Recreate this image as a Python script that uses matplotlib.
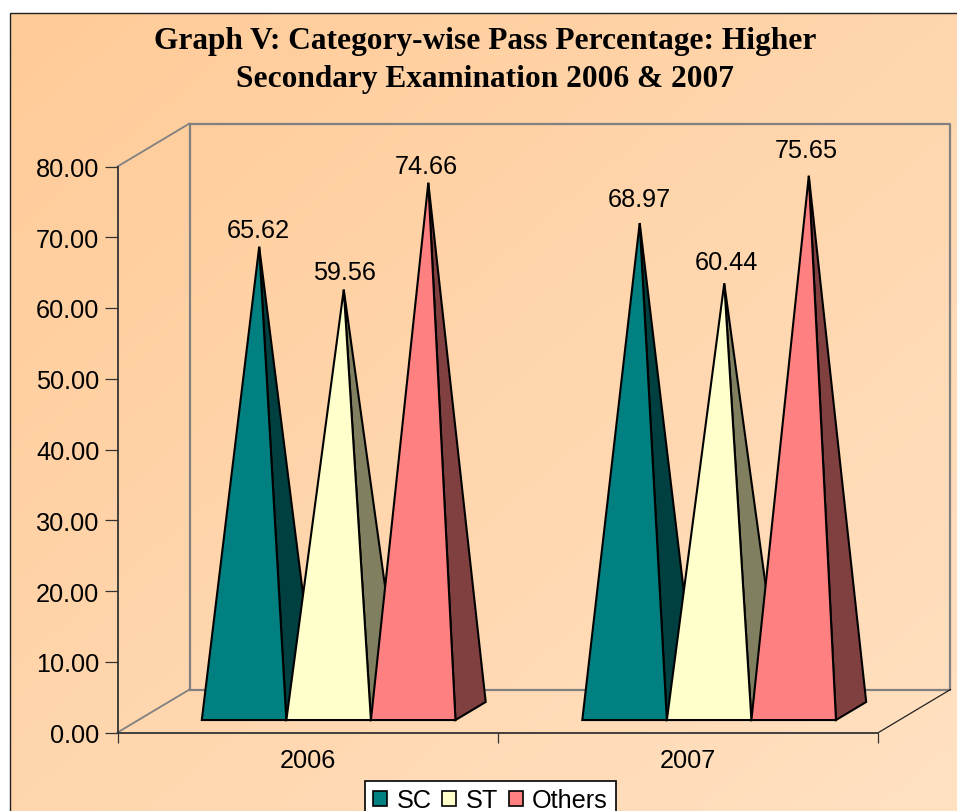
"""Category-wise pass percentage, 3D-look pyramid chart."""

import matplotlib
matplotlib.use("Agg")
import matplotlib.pyplot as plt
import numpy as np
from matplotlib.patches import Patch, Polygon, Rectangle

years = ["2006", "2007"]
categories = ["SC", "ST", "Others"]
sc_values = [65.62, 68.97]
st_values = [59.56, 60.44]
others_values = [74.66, 75.65]
y_ticks = [0, 10, 20, 30, 40, 50, 60, 70, 80]

front_colors = ["#008080", "#FFFFCC", "#FF8080"]
side_colors = ["#004040", "#808060", "#804040"]

W, H = 957, 812
LEFT, RIGHT, BASE, TOP = 117.5, 878.5, 733.5, 167.5  # front plane in pixels
DEPTH_X = 72 / ((RIGHT - LEFT) / 2)  # wall depth in x units
DEPTH_Y = 43 / ((BASE - TOP) / 80)  # wall depth in y units
BAR_W = 1 / 4.5
FRONT, MID, BACK = 0.29, 0.50, 0.71
TEXT_SIZE = 18.2

plt.rcParams["font.family"] = ["Liberation Sans", "DejaVu Sans"]
fig = plt.figure(figsize=(W / 100, H / 100), dpi=100, facecolor="white")

# page background with diagonal gradient
bg = fig.add_axes([0, 0, 1, 1], zorder=0)
bg.axis("off")
gx, gy = np.meshgrid(np.linspace(0, 1, 200), np.linspace(0, 1, 200))
t = (gx + gy)[..., None] / 2
grad = (1 - t) * np.array([255, 203, 152]) + t * np.array([255, 225, 194])
bg.imshow(grad / 255, extent=(10, W + 2, H + 2, 14), aspect="auto", interpolation="bilinear")
bg.set_xlim(0, W)
bg.set_ylim(H, 0)
bg.add_patch(Rectangle((10, 14), W, H, fill=False, ec="#222222", lw=1.0))

fig.text(485 / W, 1 - 60.5 / H,
         "Graph V: Category-wise Pass Percentage: Higher\nSecondary Examination 2006 & 2007",
         family="Liberation Serif", weight="bold", fontsize=22.6, ha="center", va="center",
         linespacing=1.38, color="black")

ax = fig.add_axes([LEFT / W, 1 - BASE / H, (RIGHT - LEFT) / W, (BASE - TOP) / H], zorder=1)
ax.patch.set_alpha(0)
ax.set_xlim(0, 2)
ax.set_ylim(0, 80)
for s in ["top", "right"]:
    ax.spines[s].set_visible(False)
for s in ["left", "bottom"]:
    ax.spines[s].set_color("#333333")
    ax.spines[s].set_linewidth(1.3)

ax.set_yticks(y_ticks)
ax.set_yticklabels([f"{v:.2f}" for v in y_ticks], fontsize=TEXT_SIZE)
ax.tick_params(axis="y", length=9.4, width=0.9, pad=3.7, color="#333333")
ax.set_xticks([0, 1, 2])
ax.set_xticklabels([])
ax.tick_params(axis="x", which="major", length=7.2, width=0.9, color="#333333")
ax.set_xticks([0.5, 1.5], minor=True)
ax.set_xticklabels(years, minor=True, fontsize=TEXT_SIZE)
ax.tick_params(axis="x", which="minor", length=0, pad=11.5)

# back wall and floor edges
wall = "#808080"
ax.plot([DEPTH_X, DEPTH_X, 2 + DEPTH_X, 2 + DEPTH_X, DEPTH_X],
        [DEPTH_Y, 80 + DEPTH_Y, 80 + DEPTH_Y, DEPTH_Y, DEPTH_Y],
        color=wall, lw=1.6, clip_on=False, zorder=1)
ax.plot([0, DEPTH_X], [80, 80 + DEPTH_Y], color=wall, lw=1.3, clip_on=False, zorder=1)
ax.plot([0, DEPTH_X], [0, DEPTH_Y], color=wall, lw=1.3, clip_on=False, zorder=1)
ax.plot([2, 2 + DEPTH_X], [0, DEPTH_Y], color="#222222", lw=0.9, clip_on=False, zorder=1)

series = [sc_values, st_values, others_values]
label_dx = [[-1, 1, -2], [0, 2, -3]]  # px nudges of the value labels
label_dy = [[-1, 0, -1], [6, 3, 8]]
z = 3
for g in range(len(years)):
    for b, vals in enumerate(series):
        x0 = g + 0.75 * BAR_W + b * BAR_W
        fl = (x0 + FRONT * DEPTH_X, FRONT * DEPTH_Y)
        fr = (x0 + BAR_W + FRONT * DEPTH_X, FRONT * DEPTH_Y)
        br = (x0 + BAR_W + BACK * DEPTH_X, BACK * DEPTH_Y)
        apex = (x0 + BAR_W / 2 + MID * DEPTH_X, vals[g] + MID * DEPTH_Y)
        ax.add_patch(Polygon([fr, br, apex], closed=True, fc=side_colors[b], ec="black",
                             lw=1.5, joinstyle="miter", clip_on=False, zorder=z))
        ax.add_patch(Polygon([fl, fr, apex], closed=True, fc=front_colors[b], ec="black",
                             lw=1.5, joinstyle="miter", clip_on=False, zorder=z + 1))
        z += 2
        ax.annotate(f"{vals[g]:.2f}", apex,
                    xytext=(label_dx[g][b] * 0.72, 13 + label_dy[g][b] * 0.72), textcoords="offset points",
                    ha="center", va="center", fontsize=TEXT_SIZE, color="black", annotation_clip=False, zorder=30)

handles = [Patch(fc=c, ec="black", lw=1.2) for c in front_colors]
leg = ax.legend(handles, categories, ncol=3, loc="upper center",
                bbox_to_anchor=(490.5 / W, 1 - 781.5 / H), bbox_transform=fig.transFigure,
                fontsize=TEXT_SIZE, frameon=True, fancybox=False, framealpha=1, edgecolor="black",
                borderaxespad=0, handlelength=0.55, handleheight=0.55, handletextpad=0.38,
                columnspacing=0.42, borderpad=0.3)
leg.get_frame().set_linewidth(1.2)

fig.savefig("out.png", dpi=100)
